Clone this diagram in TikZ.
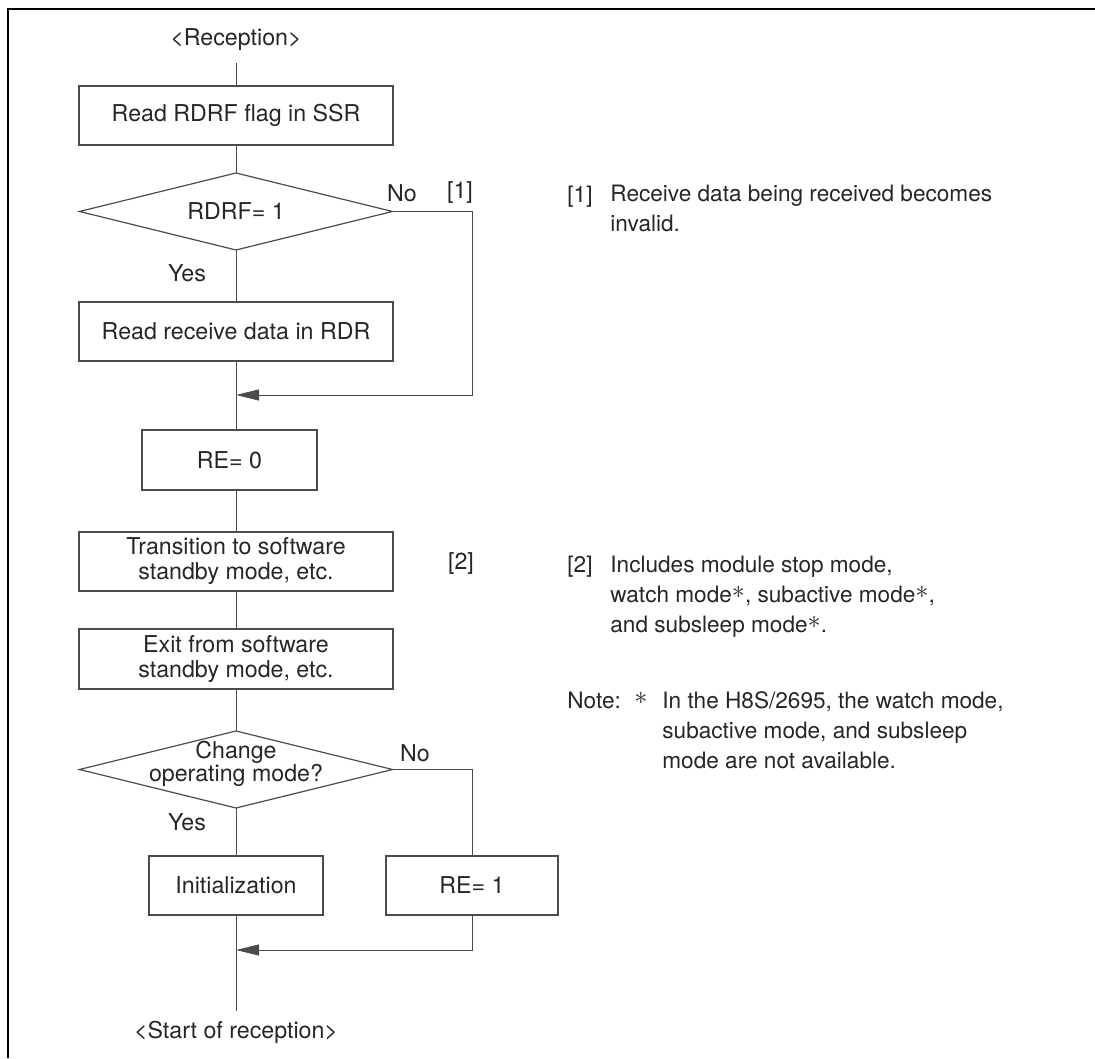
\documentclass[tikz,border=0pt]{standalone}
\usepackage{fontspec}
\usepackage{graphicx}
\setmainfont{TeX Gyre Heros}
\usetikzlibrary{arrows.meta, positioning, shapes.geometric}

\definecolor{inkgray}{gray}{0.15}
\definecolor{linegray}{gray}{0.3}

\newcommand{\fnstar}{\smash{\raisebox{0.3ex}{\scalebox{1.2}{$\ast$}}}}

\tikzset{
  procbox/.style={draw=linegray, line width=0.6pt, minimum height=29.5pt, inner sep=0pt,
    align=center, text=inkgray, font=\fontsize{11.6}{12.5}\selectfont},
  decbox/.style={diamond, draw=linegray, line width=0.6pt, inner sep=0pt, outer sep=0pt,
    minimum width=156.5pt, minimum height=38.5pt},
  flowlabel/.style={text=inkgray, font=\fontsize{11.6}{14}\selectfont, inner sep=0pt},
  flow/.style={draw=linegray, line width=0.5pt},
  merge/.style={flow, -{Triangle[length=11.5pt, width=5.5pt]}},
  notetext/.style={text=inkgray, font=\fontsize{11.3}{15}\selectfont, inner sep=0pt,
    align=left, anchor=base west},
}

\begin{document}
\begin{tikzpicture}[x=0.5pt, y=-0.5pt]

\def\colX{236}   % main column
\def\sideX{472}  % right branch

\useasboundingbox (0,0) rectangle (1095,1058);

% --- Frame ---
\draw[line width=1.2pt] (8,1058) -- (8,9) -- (1095,9);

% --- Flow chart ---
\node[flowlabel] (recv) at (\colX,40) {\textless Reception\textgreater};
\coordinate (recvend) at (\colX,63);
\node[procbox, minimum width=157pt] (rdflag) at (\colX,115.5) {Read RDRF flag in SSR};

\node[decbox] (rdrf) at (\colX,211.5) {};
\node[flowlabel] (rdrftxt) at (rdrf) {RDRF= 1};
\node[flowlabel] (no1) at (402,193) {No};
\node[flowlabel] (ref1) at (460,193) {[1]};
\node[flowlabel] (yes1) at (187,273) {Yes};

\node[procbox, minimum width=157pt] (rddata) at (\colX,331.5) {Read receive data in RDR};
\coordinate (skip1) at (\sideX,395);
\coordinate (join1) at (\colX,395);

\node[procbox, minimum width=87.5pt, minimum height=30pt] (reoff) at (229.5,460) {RE= 0};

\node[procbox, minimum width=157pt] (trans) at (\colX,561.5) {Transition to software\\standby mode, etc.};
\node[flowlabel] (ref2) at (461,563) {[2]};
\node[procbox, minimum width=157pt, minimum height=30pt] (exit) at (\colX,659) {Exit from software\\standby mode, etc.};

\node[decbox] (chg) at (\colX,769.5) {};
\node[flowlabel, align=center, font=\fontsize{11.6}{11.5}\selectfont] (chgtxt) at (\colX,764) {Change\\operating mode?};
\node[flowlabel] (no2) at (415,753) {No};
\node[flowlabel] (yes2) at (187,822) {Yes};

\node[procbox, minimum width=87pt] (init) at (\colX,885.5) {Initialization};
\node[procbox, minimum width=86pt] (reon) at (\sideX,885.5) {RE= 1};
\coordinate (join2) at (\colX,950);
\coordinate (startend) at (\colX,1011);
\node[flowlabel] (startrx) at (\colX,1032) {\textless Start of reception\textgreater};

% connectors
\draw[flow] (recvend) -- (rdflag);
\draw[flow] (rdflag) -- (rdrf);
\draw[flow] (rdrf) -- (rddata);
\draw[merge] (rdrf.east) -| (skip1) -- (join1);
\draw[flow] (rddata.south) -- (rddata.south |- reoff.north);
\draw[flow] (trans.north |- reoff.south) -- (trans.north);
\draw[flow] (trans) -- (exit);
\draw[flow] (exit) -- (chg);
\draw[flow] (chg) -- (init);
\draw[flow] (chg.east) -| (reon.north);
\draw[merge] (reon.south) |- (join2);
\draw[flow] (init) -- (startend);

% --- Notes (base = last line) ---
\node[notetext] (n1lbl) at (567,203) {[1]};
\node[notetext] (n1) at (610,232) {Receive data being received becomes\\invalid.};
\node[notetext] (n2lbl) at (567,572) {[2]};
\node[notetext] (n2) at (610,632) {Includes module stop mode,\\watch mode\fnstar, subactive mode\fnstar,\\and subsleep mode\fnstar.};
\node[notetext] (notelbl) at (567,708) {Note:};
\node[notetext] (notestar) at (634,708) {\fnstar};
\node[notetext] (note) at (662,768) {In the H8S/2695, the watch mode,\\subactive mode, and subsleep\\mode are not available.};

\end{tikzpicture}
\end{document}
